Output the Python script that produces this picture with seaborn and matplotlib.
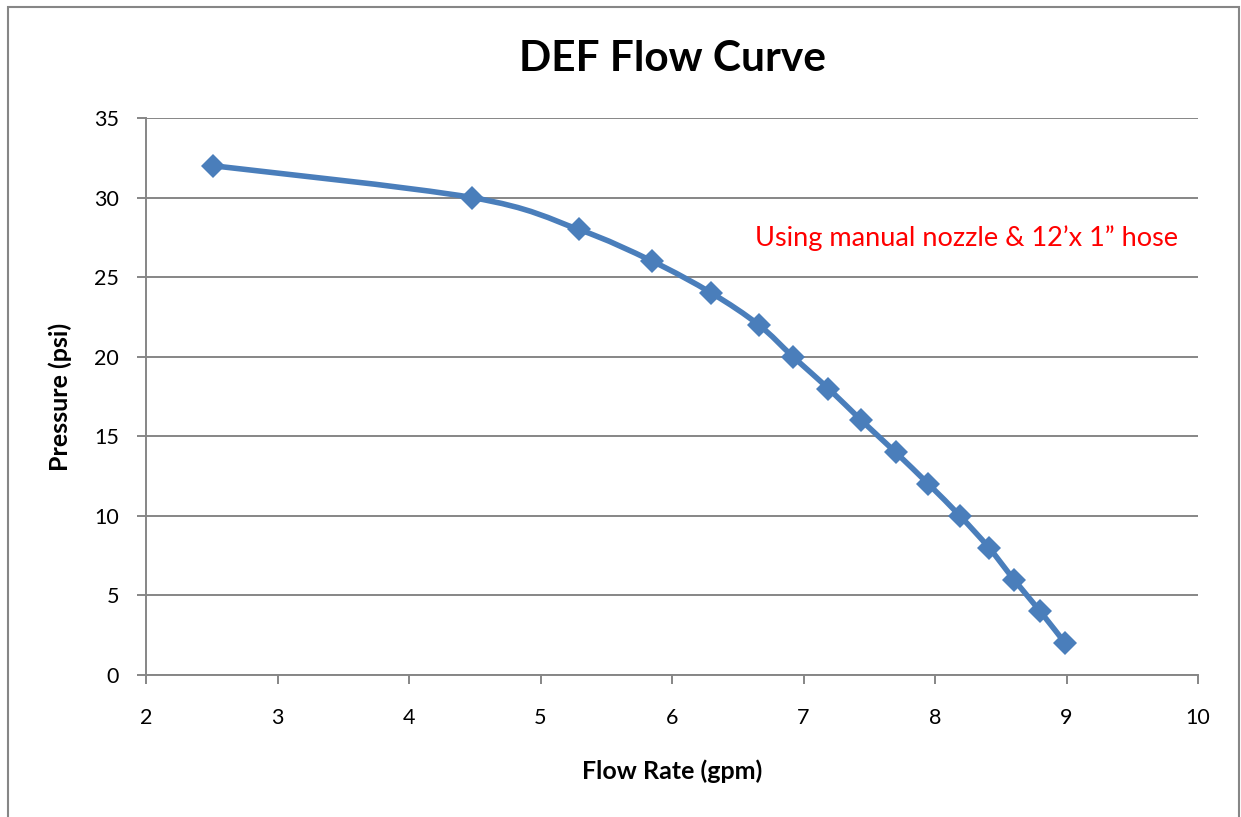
import numpy as np
import pandas as pd
import seaborn as sns
import matplotlib
matplotlib.use("Agg")
import matplotlib.pyplot as plt
from matplotlib.path import Path
from matplotlib.patches import PathPatch, Rectangle

# ---- data ----
flow_rate = [2.51, 4.48, 5.29, 5.85, 6.30, 6.66, 6.92, 7.19, 7.44, 7.70, 7.95, 8.19, 8.41, 8.60, 8.80, 8.99]
pressure = [32, 30, 28, 26, 24, 22, 20, 18, 16, 14, 12, 10, 8, 6, 4, 2]
x_ticks = [2, 3, 4, 5, 6, 7, 8, 9, 10]
y_ticks = [0, 5, 10, 15, 20, 25, 30, 35]
title = "DEF Flow Curve"
x_label = "Flow Rate (gpm)"
y_label = "Pressure (psi)"
note = "Using manual nozzle & 12\u2019x 1\u201d hose"

df = pd.DataFrame({"flow": flow_rate, "pressure": pressure})

sns.set_theme(style="white")
plt.rcParams["font.family"] = ["Lato", "DejaVu Sans"]
plt.rcParams["text.color"] = "black"

W, H = 1241, 817
fig = plt.figure(figsize=(W / 100, H / 100), dpi=100)
ax = fig.add_axes([146 / W, 1 - 675 / H, (1198 - 146) / W, (675 - 118) / H])

BLUE = "#4A7EBB"
GRAY = "#868686"

# smoothed line (Bezier through data points, like a spreadsheet smoothed line)
pts = np.column_stack([df["flow"].to_numpy(float), df["pressure"].to_numpy(float)])
verts = [tuple(pts[0])]
codes = [Path.MOVETO]
n = len(pts)
for i in range(n - 1):
    p0 = pts[i - 1] if i > 0 else pts[i]
    p1 = pts[i]
    p2 = pts[i + 1]
    p3 = pts[i + 2] if i + 2 < n else pts[i + 1]
    c1 = p1 + (p2 - p0) / 6.0
    c2 = p2 - (p3 - p1) / 6.0
    verts += [tuple(c1), tuple(c2), tuple(p2)]
    codes += [Path.CURVE4, Path.CURVE4, Path.CURVE4]
ax.add_patch(PathPatch(Path(verts, codes), facecolor="none", edgecolor=BLUE,
                       linewidth=4.0, capstyle="round", joinstyle="round", zorder=3))

# markers
sns.lineplot(data=df, x="flow", y="pressure", ax=ax, linestyle="none",
             marker="D", markersize=12, color=BLUE, markeredgecolor=BLUE,
             markeredgewidth=0, zorder=4)

ax.set_xlim(2, 10)
ax.set_ylim(0, 35)
ax.set_xticks(x_ticks)
ax.set_yticks(y_ticks)
ax.yaxis.grid(True, color=GRAY, linewidth=1.4)
ax.xaxis.grid(False)
ax.set_axisbelow(True)
for s in ["top", "right"]:
    ax.spines[s].set_visible(False)
for s in ["left", "bottom"]:
    ax.spines[s].set_color(GRAY)
    ax.spines[s].set_linewidth(1.4)

ax.tick_params(axis="both", which="major", direction="out", length=6.5, width=1.4,
               color=GRAY, labelsize=15.5, labelcolor="black")
ax.tick_params(axis="y", pad=13, left=True)
ax.tick_params(axis="x", pad=17, bottom=True)

ax.set_xlabel("")
ax.set_ylabel("")
fig.text((146 + 1198) / 2 / W, 1 - 771 / H, x_label, ha="center", va="center",
         fontsize=18, fontweight="bold", color="black")
fig.text(60 / W, 1 - 397 / H, y_label, ha="center", va="center", rotation=90,
         fontsize=18, fontweight="bold", color="black")
fig.text((146 + 1198) / 2 / W, 1 - 59 / H, title, ha="center", va="center",
         fontsize=30.5, fontweight="bold", color="black")

ax.text(6.63, 27.46, note, color="#FF0000", fontsize=19.5, ha="left", va="center")

# chart frame
fig.add_artist(Rectangle((8 / W, -0.05), (1239 - 8) / W, 1.05 - 7 / H,
                         transform=fig.transFigure, fill=False,
                         edgecolor=GRAY, linewidth=1.5))

fig.savefig("out.png", dpi=100)
